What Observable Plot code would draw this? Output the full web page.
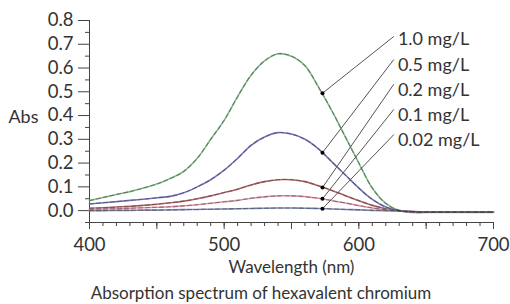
<!DOCTYPE html>
<html>
<head>
<meta charset="utf-8">
<script src="https://cdn.jsdelivr.net/npm/d3@7"></script>
<script src="https://cdn.jsdelivr.net/npm/@observablehq/plot@0.6"></script>
<style>
  html, body { margin: 0; padding: 0; background: #fff; overflow: hidden; }
  #wrap { position: relative; width: 510px; height: 304px; font-family: Lato, "Open Sans", sans-serif; color: #333; }
  #caption { position: absolute; left: 12px; top: 282px; width: 498px; height: 22px; line-height: 22px; text-align: center; font-size: 17px; color: #333; }
</style>
</head>
<body>
<div id="wrap"><div id="chart"></div><div id="caption">Absorption spectrum of hexavalent chromium</div></div>
<script>
// Wavelengths (nm)
const wavelengths = [400,410,420,430,440,450,460,470,480,490,500,510,520,530,540,550,560,570,580,590,600,610,620,630,640,650,660,670,680,690,700];
// Series names
const seriesNames = ["1.0 mg/L", "0.5 mg/L", "0.2 mg/L", "0.1 mg/L", "0.02 mg/L"];
// Absorbance values per series
const abs10  = [0.042,0.055,0.068,0.080,0.095,0.112,0.135,0.165,0.220,0.300,0.380,0.480,0.570,0.630,0.660,0.650,0.610,0.520,0.420,0.310,0.200,0.095,0.030,0.000,-0.008,-0.008,-0.008,-0.008,-0.008,-0.008,-0.008];
const abs05  = [0.028,0.033,0.038,0.043,0.048,0.054,0.060,0.075,0.100,0.130,0.170,0.220,0.275,0.310,0.328,0.322,0.300,0.260,0.205,0.150,0.095,0.047,0.015,0.000,-0.005,-0.007,-0.007,-0.007,-0.007,-0.007,-0.007];
const abs02  = [0.010,0.012,0.015,0.018,0.022,0.027,0.033,0.040,0.050,0.062,0.076,0.090,0.108,0.122,0.130,0.130,0.122,0.105,0.085,0.063,0.042,0.022,0.008,0.000,-0.004,-0.006,-0.006,-0.006,-0.006,-0.006,-0.006];
const abs01  = [0.006,0.007,0.008,0.010,0.012,0.014,0.016,0.020,0.025,0.031,0.037,0.043,0.052,0.058,0.062,0.062,0.059,0.052,0.042,0.032,0.021,0.011,0.004,0.000,-0.004,-0.005,-0.005,-0.005,-0.005,-0.005,-0.005];
const abs002 = [0.000,0.000,0.001,0.001,0.002,0.002,0.003,0.004,0.005,0.006,0.007,0.008,0.009,0.010,0.011,0.011,0.010,0.009,0.007,0.005,0.003,0.001,0.000,-0.002,-0.004,-0.005,-0.005,-0.005,-0.005,-0.005,-0.005];
const seriesValues = [abs10, abs05, abs02, abs01, abs002];
const seriesColors = ["#86bf8c", "#7a74c4", "#b8666a", "#e79aa6", "#8088b4"];

// Marker wavelength and marker absorbances
const markerWavelength = 573;
const markerValues = [0.494, 0.244, 0.097, 0.050, 0.008];
// Label anchor positions (annotation, in data units)
const labelWavelength = 629;
const leaderEndWavelength = 626;
const labelValues = [0.72, 0.612, 0.508, 0.402, 0.296];
const leaderOffsets = [0.013, 0.024, 0.024, 0.024, 0.024];

// Axis ticks
const xMajorTicks = [400,450,500,550,600,650,700];
const xLabelTicks = [400,500,600,700];
const xMinorTicks = d3.range(400, 701, 10);
const yMajorTicks = [0,0.1,0.2,0.3,0.4,0.5,0.6,0.7,0.8];
const yMinorTicks = [-0.05,0.05,0.15,0.25,0.35,0.45,0.55,0.65,0.75];

const rows = [];
seriesNames.forEach((s, i) => wavelengths.forEach((w, j) => rows.push({series: s, wl: w, abs: seriesValues[i][j]})));
const annot = seriesNames.map((s, i) => ({series: s, mv: markerValues[i], lv: labelValues[i], off: leaderOffsets[i]}));

const axisColor = "#444";
const tickFont = 18.5;
const chart = Plot.plot({
  width: 510, height: 280,
  marginLeft: 89, marginRight: 17, marginTop: 20, marginBottom: 58,
  style: {fontFamily: "Lato, 'Open Sans', sans-serif", fontSize: "17px", color: "#333", background: "#fff"},
  x: {domain: [400, 700], axis: null},
  y: {domain: [-0.05, 0.8], axis: null},
  color: {domain: seriesNames, range: seriesColors},
  marks: [
    // axis lines
    Plot.ruleX([400], {y1: -0.05, y2: 0.8, stroke: axisColor, strokeWidth: 1}),
    Plot.ruleY([-0.05], {x1: 400, x2: 700, stroke: axisColor, strokeWidth: 1}),
    // y ticks
    Plot.axisY(yMinorTicks, {tickSize: 4, text: null, stroke: axisColor, label: null}),
    Plot.axisY(yMajorTicks, {tickSize: 11, tickPadding: 5, tickFormat: d3.format(".1f"), stroke: axisColor, fill: "#333", fontSize: tickFont, label: null}),
    // x ticks
    Plot.axisX(xMinorTicks, {tickSize: 4, text: null, stroke: axisColor, label: null}),
    Plot.axisX(xMajorTicks, {tickSize: 7, text: null, stroke: axisColor, label: null}),
    Plot.axisX(xLabelTicks, {tickSize: 0, tickPadding: 15, fill: "#333", fontSize: tickFont, label: null}),
    Plot.text(["Wavelength (nm)"], {frameAnchor: "bottom", dy: 50, fontSize: 17, fill: "#333"}),
    Plot.text(["Abs"], {frameAnchor: "left", y: [0.4], dx: -51, dy: 2, textAnchor: "end", fontSize: 18, fill: "#333"}),
    // spectra
    Plot.line(rows, {x: "wl", y: "abs", z: "series", stroke: "series", strokeWidth: 1.6, curve: "catmull-rom"}),
    Plot.line(rows, {x: "wl", y: "abs", z: "series", stroke: "#3a3a3a", strokeOpacity: 0.5, strokeWidth: 1.1, strokeDasharray: "4,3", curve: "catmull-rom"}),
    // leader lines, markers, labels
    Plot.link(annot, {x1: () => markerWavelength, y1: "mv", x2: () => leaderEndWavelength, y2: d => d.lv + d.off, stroke: "#555", strokeWidth: 1}),
    Plot.dot(annot, {x: () => markerWavelength, y: "mv", r: 2, fill: "#000"}),
    Plot.text(annot, {x: () => labelWavelength, y: "lv", text: "series", textAnchor: "start", fontSize: 18, fill: "#333"})
  ]
});
document.getElementById("chart").appendChild(chart);
</script>
</body>
</html>
